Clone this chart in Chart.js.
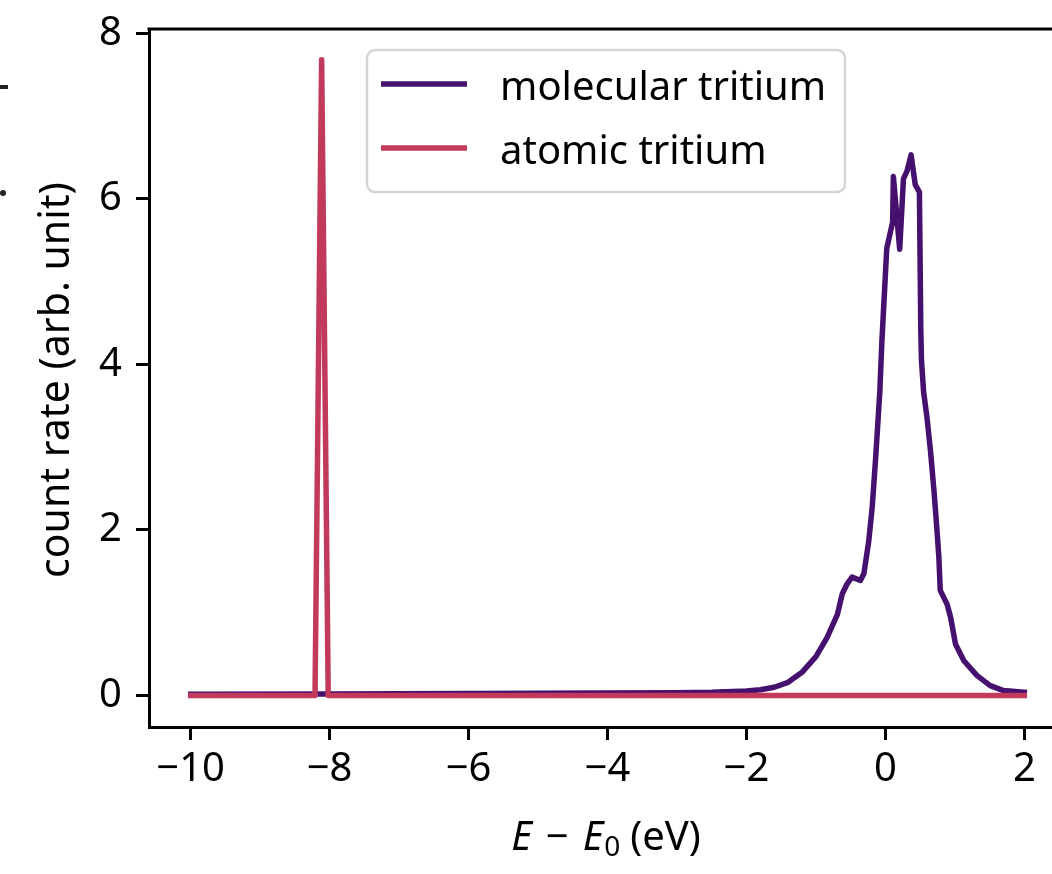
<!DOCTYPE html>
<html><head><meta charset="utf-8">
<script src="https://cdn.jsdelivr.net/npm/chart.js@4.4.1/dist/chart.umd.min.js"></script>
<style>
html,body{margin:0;padding:0;overflow:hidden;background:#fff;width:1052px;height:874px}
#wrap{position:absolute;left:0;top:0;width:1090px;height:874px}
</style>
</head><body><div id="wrap"><canvas id="c" width="1090" height="874"></canvas></div>
<script>
// ---- data ----
const seriesLabels = ['molecular tritium', 'atomic tritium'];
const seriesColors = ['#45106e', '#c1395b'];
const molecularX = [-10, -8, -6, -4, -3, -2.5, -2.0, -1.8, -1.6, -1.4, -1.2, -1.0, -0.84, -0.69, -0.62, -0.55, -0.48, -0.36, -0.31, -0.24, -0.19, -0.14, -0.08, -0.05, 0.02, 0.105, 0.115, 0.206, 0.26, 0.31, 0.37, 0.43, 0.49, 0.51, 0.52, 0.55, 0.60, 0.65, 0.70, 0.74, 0.77, 0.79, 0.89, 0.94, 1.01, 1.13, 1.32, 1.51, 1.70, 2.0];
const molecularY = [0.015, 0.02, 0.025, 0.03, 0.035, 0.04, 0.055, 0.07, 0.10, 0.16, 0.28, 0.47, 0.70, 0.98, 1.23, 1.35, 1.43, 1.39, 1.47, 1.86, 2.27, 2.87, 3.67, 4.28, 5.40, 5.72, 6.27, 5.39, 6.24, 6.33, 6.53, 6.17, 6.08, 4.40, 4.04, 3.67, 3.35, 2.95, 2.47, 2.03, 1.67, 1.27, 1.10, 0.94, 0.62, 0.42, 0.24, 0.12, 0.06, 0.04];
const atomicX = [-10, -8.21, -8.115, -8.02, 2.0];
const atomicY = [0, 0, 7.68, 0, 0];
const xTicks = [-10, -8, -6, -4, -2, 0, 2];
const yTicks = [0, 2, 4, 6, 8];
const xRange = [-10.6, 2.6];
const yRange = [-0.38, 8.05];

const FONT = '"Noto Sans", "Open Sans", sans-serif';
const FS = 40;
const toPts = (xs, ys) => xs.map((x, i) => ({x, y: ys[i]}));
const fmt = v => String(v).replace('-', '\u2212');

const decor = {
  id: 'decor',
  afterDraw(chart) {
    const ctx = chart.ctx, a = chart.chartArea;
    ctx.save();
    // top / right spines
    ctx.strokeStyle = '#000'; ctx.lineWidth = 3;
    ctx.beginPath(); ctx.moveTo(a.left - 1.5, a.top); ctx.lineTo(a.right + 1.5, a.top); ctx.stroke();
    ctx.beginPath(); ctx.moveTo(a.right, a.top); ctx.lineTo(a.right, a.bottom); ctx.stroke();

    // remnants of the neighbouring panel at the left edge
    ctx.fillStyle = '#222';
    ctx.fillRect(0, 85, 8, 4);
    ctx.beginPath(); ctx.arc(3, 193, 3, 0, Math.PI * 2); ctx.fill();

    // legend
    const lx = a.left + 218, ly = a.top + 21, lw = 478, lh = 142;
    ctx.beginPath();
    ctx.roundRect(lx, ly, lw, lh, 8);
    ctx.fillStyle = 'rgba(255,255,255,0.8)'; ctx.fill();
    ctx.strokeStyle = '#d5d5d5'; ctx.lineWidth = 2.5; ctx.stroke();
    ctx.font = FS + 'px ' + FONT;
    ctx.textBaseline = 'alphabetic'; ctx.textAlign = 'left';
    seriesLabels.forEach((lab, i) => {
      const yy = ly + 34 + i * 64;
      ctx.strokeStyle = seriesColors[i]; ctx.lineWidth = 5.5; ctx.lineCap = 'butt';
      ctx.beginPath(); ctx.moveTo(lx + 14, yy); ctx.lineTo(lx + 100, yy); ctx.stroke();
      ctx.fillStyle = '#000';
      ctx.fillText(lab, lx + 133, yy + 16);
    });

    // x title:  E − E0 (eV)
    const segs = [
      {t: 'E', f: 'italic ' + FS + 'px ' + FONT, dy: 0, gap: 14},
      {t: '\u2212', f: FS + 'px ' + FONT, dy: 0, gap: 14},
      {t: 'E', f: 'italic ' + FS + 'px ' + FONT, dy: 0, gap: 1},
      {t: '0', f: '28px ' + FONT, dy: 6, gap: 10},
      {t: '(eV)', f: FS + 'px ' + FONT, dy: 0, gap: 0},
    ];
    let total = 0;
    segs.forEach(s => { ctx.font = s.f; s.w = ctx.measureText(s.t).width; total += s.w + s.gap; });
    let x0 = 606 - total / 2;
    const by = 850;
    ctx.fillStyle = '#000';
    segs.forEach(s => { ctx.font = s.f; ctx.fillText(s.t, x0, by + s.dy); x0 += s.w + s.gap; });

    // y title
    ctx.translate(69, (a.top + a.bottom) / 2 + 2);
    ctx.rotate(-Math.PI / 2);
    ctx.font = '41px ' + FONT; ctx.textAlign = 'center';
    ctx.fillText('count rate (arb. unit)', 0, 0);
    ctx.restore();
  }
};

const tickFont = {family: FONT, size: FS};
new Chart(document.getElementById('c'), {
  type: 'scatter',
  data: {
    datasets: [
      {label: seriesLabels[0], data: toPts(molecularX, molecularY), order: 1},
      {label: seriesLabels[1], data: toPts(atomicX, atomicY), order: 0},
    ].map((d, i) => Object.assign(d, {
      showLine: true, pointRadius: 0, borderWidth: 5.5, borderColor: seriesColors[i],
      backgroundColor: seriesColors[i], tension: 0, borderCapStyle: 'square', borderJoinStyle: 'round', fill: false
    }))
  },
  options: {
    responsive: false, animation: false, devicePixelRatio: 1,
    layout: {padding: {top: 29, right: 24, left: 0, bottom: 0}},
    plugins: {legend: {display: false}, tooltip: {enabled: false}},
    scales: {
      x: {
        type: 'linear', min: xRange[0], max: xRange[1],
        afterBuildTicks: s => { s.ticks = xTicks.map(v => ({value: v})); },
        afterFit: s => { s.height = 147; s.paddingLeft = 0; s.paddingRight = 0; },
        ticks: {callback: v => fmt(v), font: tickFont, color: '#000', padding: 6, maxRotation: 0},
        grid: {drawOnChartArea: false, drawTicks: true, tickLength: 13, tickColor: '#000', tickWidth: 3},
        border: {display: true, color: '#000', width: 3}
      },
      y: {
        type: 'linear', min: yRange[0], max: yRange[1],
        afterBuildTicks: s => { s.ticks = yTicks.map(v => ({value: v})); },
        afterFit: s => { s.width = 149; s.paddingTop = 0; s.paddingBottom = 0; },
        ticks: {callback: v => fmt(v), font: tickFont, color: '#000', padding: 14},
        grid: {drawOnChartArea: false, drawTicks: true, tickLength: 13, tickColor: '#000', tickWidth: 3},
        border: {display: true, color: '#000', width: 3}
      }
    }
  },
  plugins: [decor]
});
</script>
</body></html>
